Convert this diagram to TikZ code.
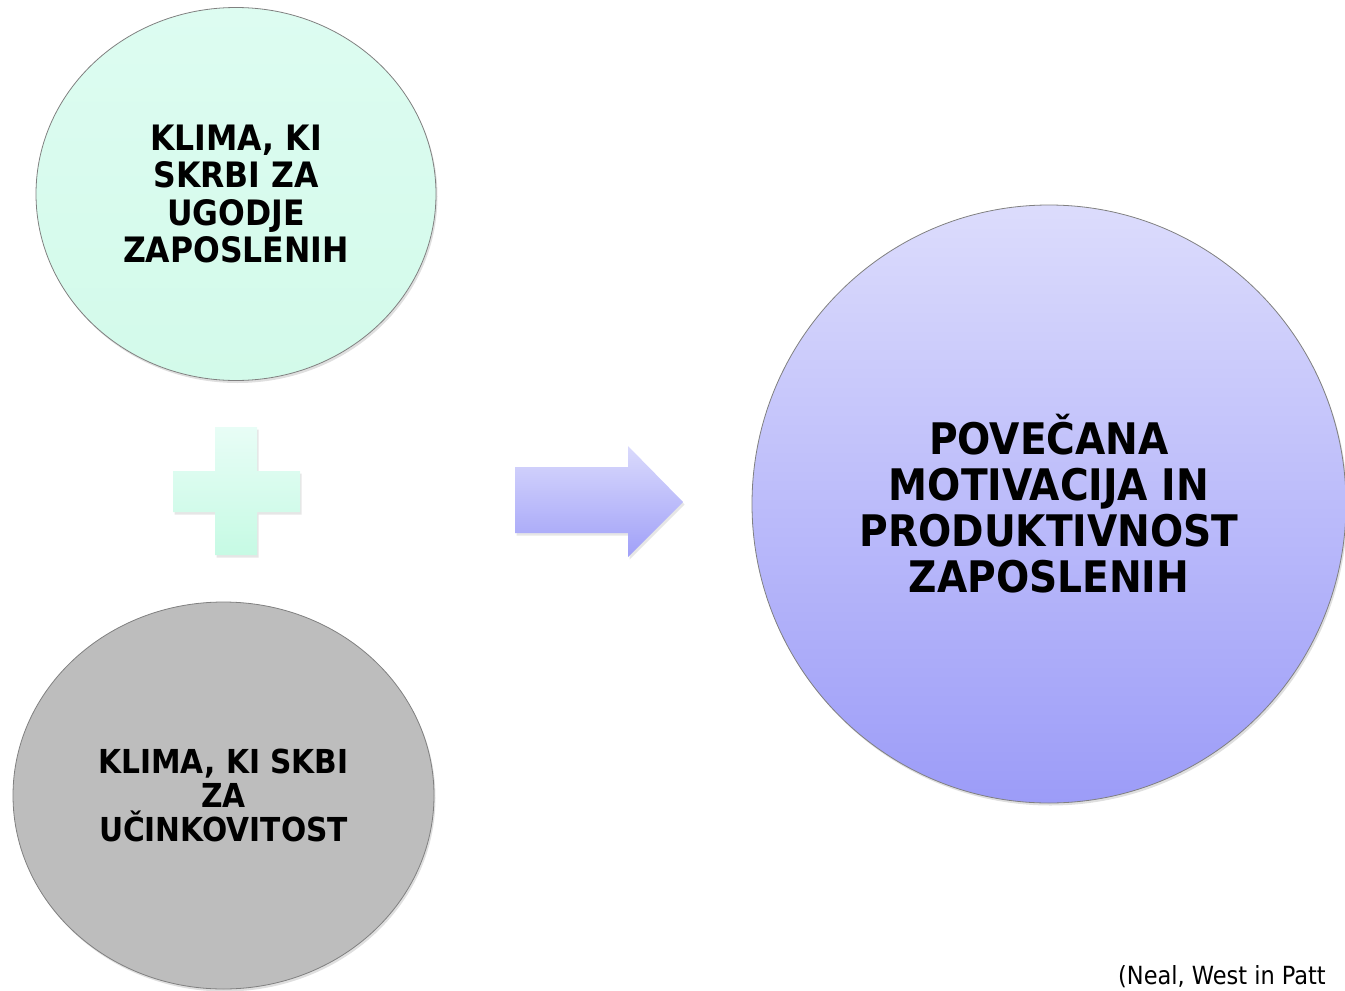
\documentclass[tikz,border=0pt]{standalone}
\usepackage{fontspec}
\setmainfont{DejaVu Sans Condensed}[BoldFont={DejaVu Sans Condensed Bold}]
\usetikzlibrary{shapes.geometric,shadows}
\definecolor{mintA}{HTML}{DDFCF1}
\definecolor{mintB}{HTML}{D3FAEA}
\definecolor{plusA}{HTML}{E8FDF6}
\definecolor{plusB}{HTML}{C6FAE4}
\definecolor{violA}{HTML}{DCDCFC}
\definecolor{violB}{HTML}{9C9CF8}
\definecolor{arrA}{HTML}{DADAFC}
\definecolor{arrB}{HTML}{A0A0F8}
\definecolor{greyC}{HTML}{BDBDBD}
\definecolor{rimC}{HTML}{808080}
\tikzset{
  bubble/.style={ellipse, draw=rimC, line width=0.8pt, inner sep=0pt, align=center,
    font=\bfseries, text=black,
    drop shadow={opacity=0.25, shadow xshift=1.5pt, shadow yshift=-2.5pt}},
  softshadow/.style={drop shadow={opacity=0.2, shadow xshift=1.5pt, shadow yshift=-2.5pt}}
}
\begin{document}
\begin{tikzpicture}[x=1pt,y=-1pt]
\useasboundingbox (0,0) rectangle (1345,991);
\clip (0,0) rectangle (1345,991);
% top circle
\node[bubble, minimum width=400pt, minimum height=373pt, top color=mintA, bottom color=mintB,
  font=\fontsize{35}{37.5}\selectfont\bfseries] (care) at (236,194)
  {KLIMA, KI\\SKRBI ZA\\UGODJE\\ZAPOSLENIH};
% bottom circle
\node[bubble, minimum width=421pt, minimum height=387pt, fill=greyC,
  font=\fontsize{33}{34}\selectfont\bfseries] (eff) at (223.5,795.5)
  {KLIMA, KI SKBI\\ZA\\UČINKOVITOST};
% big circle
\node[bubble, minimum width=594pt, minimum height=598pt, top color=violA, bottom color=violB,
  font=\fontsize{43.5}{46}\selectfont\bfseries] (result) at (1049,504)
  {POVEČANA\\MOTIVACIJA IN\\PRODUKTIVNOST\\ZAPOSLENIH};
% plus sign
\path[softshadow, top color=plusA, bottom color=plusB]
  (215,427) -- (257,427) -- (257,471) -- (300,471) -- (300,512) -- (257,512)
  -- (257,555) -- (215,555) -- (215,512) -- (173,512) -- (173,471) -- (215,471) -- cycle;
% arrow
\path[softshadow, top color=arrA, bottom color=arrB]
  (515,467) -- (628,467) -- (628,446) -- (683,502) -- (628,557) -- (628,533) -- (515,533) -- cycle;
% citation
\node[anchor=base west, inner sep=0pt, font=\fontsize{25}{27}\selectfont] (cite) at (1118,984)
  {(Neal, West in Patt};
\end{tikzpicture}
\end{document}
